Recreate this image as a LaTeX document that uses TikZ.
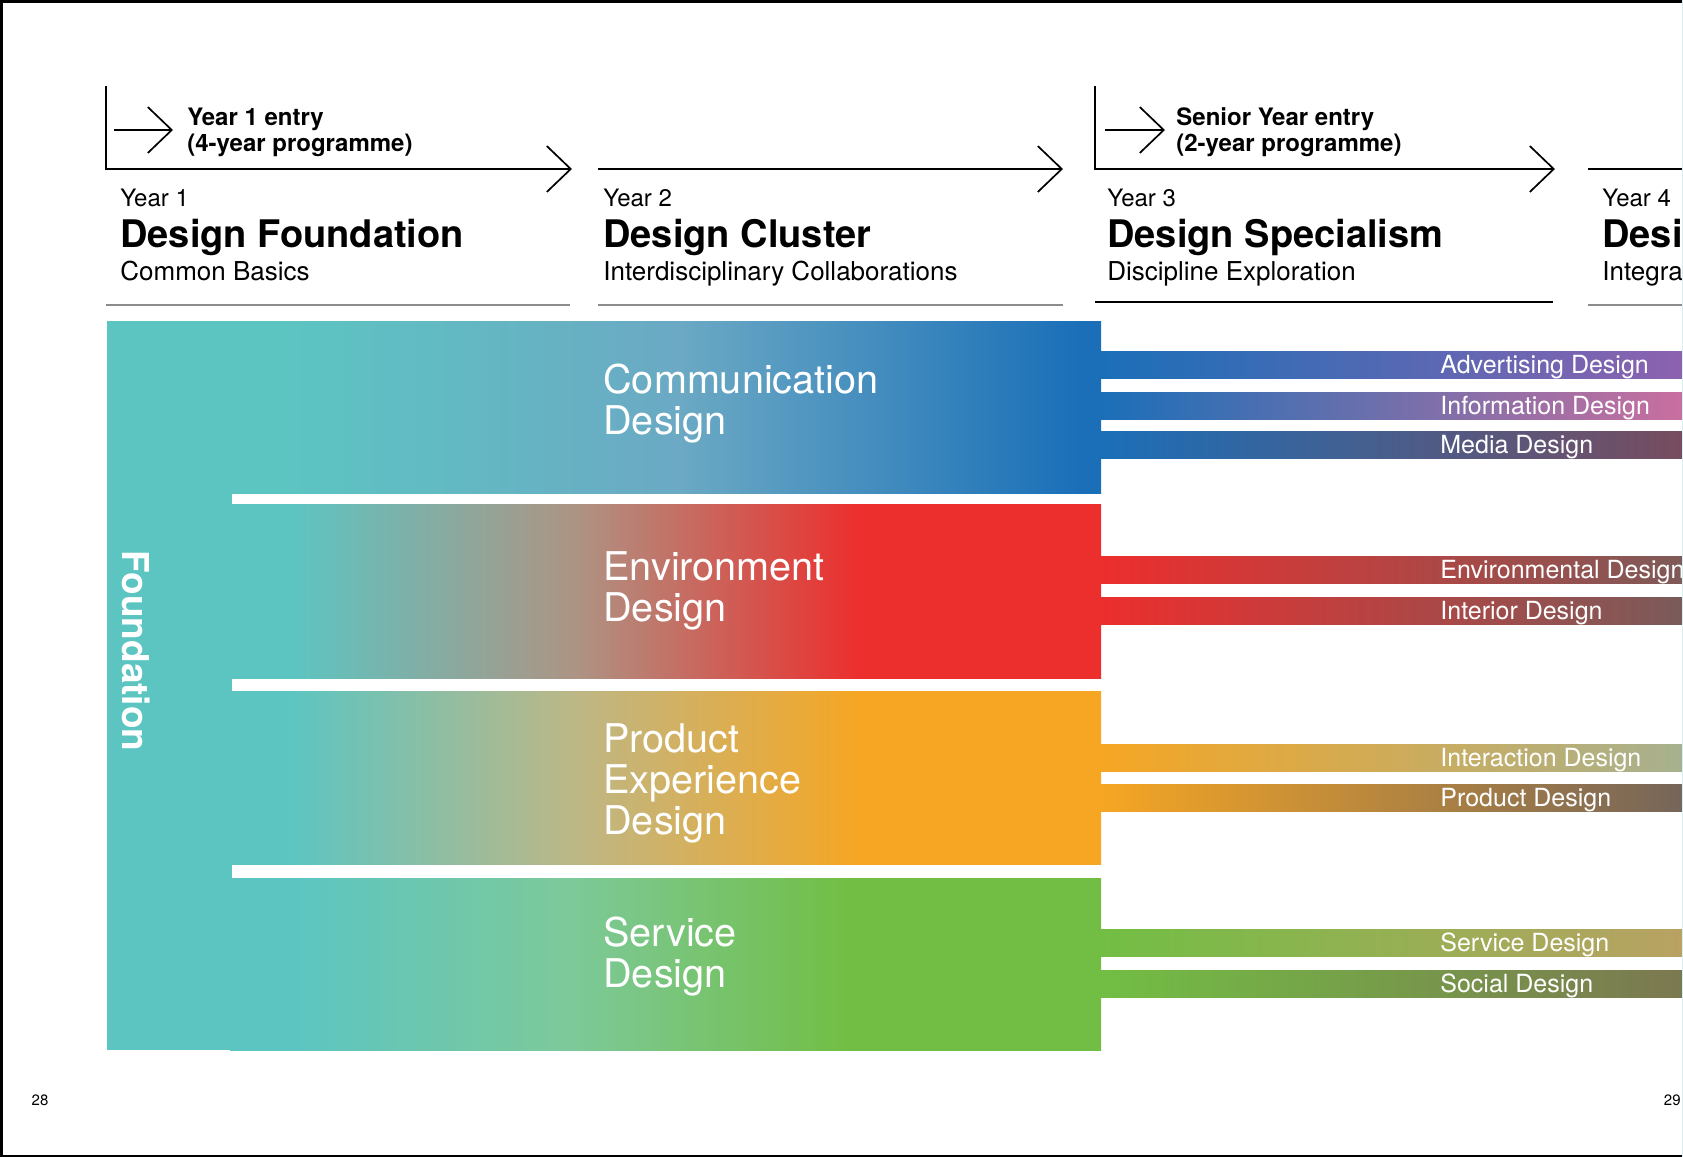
\documentclass[tikz,border=0pt]{standalone}
\usepackage{fontspec}
\setmainfont{TeX Gyre Heros}
\usetikzlibrary{arrows.meta}

\definecolor{foundteal}{HTML}{5CC5C2}
\definecolor{commblue}{HTML}{1A6FB8}
\definecolor{envred}{HTML}{EC2E2D}
\definecolor{prodorange}{HTML}{F6A623}
\definecolor{servgreen}{HTML}{72BE44}
\definecolor{commmid}{HTML}{6BA9C4}
\definecolor{envmid}{HTML}{AD9484}
\definecolor{prodmid}{HTML}{BDB786}
\definecolor{servmid}{HTML}{7DC99A}
\definecolor{advpurple}{HTML}{8D62AF}
\definecolor{infopink}{HTML}{C96F9F}
\definecolor{mediamauve}{HTML}{784C5F}
\definecolor{envbrown}{HTML}{7E5A58}
\definecolor{intbrown}{HTML}{7A5B5A}
\definecolor{actsage}{HTML}{A7B18F}
\definecolor{prodbrown}{HTML}{75655A}
\definecolor{servtan}{HTML}{B9A263}
\definecolor{socolive}{HTML}{7B7850}
\definecolor{rulegray}{HTML}{8C8C8C}

% cluster bands: the band itself spans 25bp..75bp
\pgfdeclarehorizontalshading{commshade}{100bp}{color(0bp)=(foundteal); color(27.9bp)=(foundteal);
  color(50.8bp)=(commmid); color(73.8bp)=(commblue); color(100bp)=(commblue)}
\pgfdeclarehorizontalshading{envshade}{100bp}{color(0bp)=(foundteal); color(28.4bp)=(foundteal);
  color(44.8bp)=(envmid); color(61.2bp)=(envred); color(100bp)=(envred)}
\pgfdeclarehorizontalshading{prodshade}{100bp}{color(0bp)=(foundteal); color(28.4bp)=(foundteal);
  color(44.8bp)=(prodmid); color(61.2bp)=(prodorange); color(100bp)=(prodorange)}
\pgfdeclarehorizontalshading{servshade}{100bp}{color(0bp)=(foundteal); color(28.4bp)=(foundteal);
  color(44.5bp)=(servmid); color(60.6bp)=(servgreen); color(100bp)=(servgreen)}

\tikzset{
  timeline/.style={line width=0.85pt, -{Straight Barb[length=12pt,width=23pt]}},
  entrytext/.style={anchor=base west, align=left, font=\bfseries\fontsize{12}{13}\selectfont},
  yeartext/.style={anchor=base west, font=\fontsize{12}{14}\selectfont},
  titletext/.style={anchor=base west, font=\bfseries\fontsize{19}{22}\selectfont},
  subtext/.style={anchor=base west, font=\fontsize{13}{15}\selectfont},
  bandtext/.style={anchor=base west, align=left, text=white, font=\fontsize{19.8}{20.5}\selectfont},
  branchtext/.style={anchor=base west, text=white, font=\fontsize{12.5}{14}\selectfont},
}

\begin{document}
\begin{tikzpicture}[x=0.5pt, y=-0.5pt, every node/.style={inner sep=0pt}]
    \useasboundingbox (0,0) rectangle (1683,1157);
    \clip (0,0) rectangle (1683,1157);

    % entry arrows
    \coordinate (y1top) at (106,86);
    \coordinate (y1tip) at (572,169);
    \coordinate (y2from) at (598,169);
    \coordinate (y2tip) at (1063,169);
    \coordinate (y3top) at (1095,86);
    \coordinate (y3tip) at (1555,169);
    \coordinate (y4from) at (1588,169);
    \coordinate (y4to) at (1690,169);
    \draw[timeline] (y1top) |- (y1tip);
    \draw[timeline] (y2from) -- (y2tip);
    \draw[timeline] (y3top) |- (y3tip);
    \draw[line width=0.85pt] (y4from) -- (y4to);

    \coordinate (e1from) at (114,130);
    \coordinate (e1tip) at (173,130);
    \coordinate (e3from) at (1105,130);
    \coordinate (e3tip) at (1165,130);
    \draw[timeline] (e1from) -- (e1tip);
    \draw[timeline] (e3from) -- (e3tip);
    % base anchor sits on the last line
    \node[entrytext] (entry1) at (187,151) {Year 1 entry\\(4-year programme)};
    \node[entrytext] (entry3) at (1176,151) {Senior Year entry\\(2-year programme)};

    % year headings
    \foreach \x/\yr/\ttl/\sub [count=\i] in {120/Year 1/Design Foundation/Common Basics,
        603/Year 2/Design Cluster/Interdisciplinary Collaborations,
        1107/Year 3/Design Specialism/Discipline Exploration,
        1602/Year 4/Desi/Integra} {
        \node[yeartext] (year\i) at (\x,206) {\yr};
        \node[titletext] (title\i) at (\x,247) {\ttl};
        \node[subtext] (sub\i) at (\x,280) {\sub};
    }
    \draw[rulegray, line width=1pt] (106,305) -- (570,305);
    \draw[rulegray, line width=1pt] (598,305) -- (1063,305);
    \draw[black, line width=0.8pt] (1095,302) -- (1553,302);
    \draw[rulegray, line width=1pt] (1588,305) -- (1690,305);

    % foundation and clusters
    \fill[foundteal] (107,321) rectangle (232,1050);
    \foreach \top/\bot/\shd in {321/493/commshade, 504/678/envshade,
        691/864/prodshade, 878/1050/servshade} {
        \shade[shading=\shd] (230,\top) rectangle (1101,\bot);
    }
    \node[rotate=-90, text=white, font=\bfseries\fontsize{18.5}{20}\selectfont] (found) at (136,651) {Foundation};

    \node[bandtext] (comm) at (603,434) {Communication\\Design};
    \node[bandtext] (env) at (603,621) {Environment\\Design};
    \node[bandtext] (prod) at (603,834) {Product\\Experience\\Design};
    \node[bandtext] (serv) at (603,987) {Service\\Design};

    % specialisms
    \foreach \top/\name/\from/\to [count=\i] in {351/Advertising Design/commblue/advpurple,
        392/Information Design/commblue/infopink,
        431/Media Design/commblue/mediamauve,
        556/Environmental Design/envred/envbrown,
        597/Interior Design/envred/intbrown,
        744/Interaction Design/prodorange/actsage,
        784/Product Design/prodorange/prodbrown,
        929/Service Design/servgreen/servtan,
        970/Social Design/servgreen/socolive} {
        \shade[left color=\from, right color=\to] (1100,\top) rectangle (1683,\top+27);
        \node[branchtext] (spec\i) at (1440,\top+22) {\name};
    }

    % page numbers and frame
    \node[font=\fontsize{7.5}{9}\selectfont] (page28) at (40,1100) {28};
    \node[anchor=east, font=\fontsize{7.5}{9}\selectfont] (page29) at (1681,1100) {29};
    \draw[line width=2.5pt] (1683,0) -- (0,0) -- (0,1157) -- (1683,1157);
    \draw[foundteal!25, line width=1pt] (1683,0) -- (1683,1157);
\end{tikzpicture}
\end{document}
